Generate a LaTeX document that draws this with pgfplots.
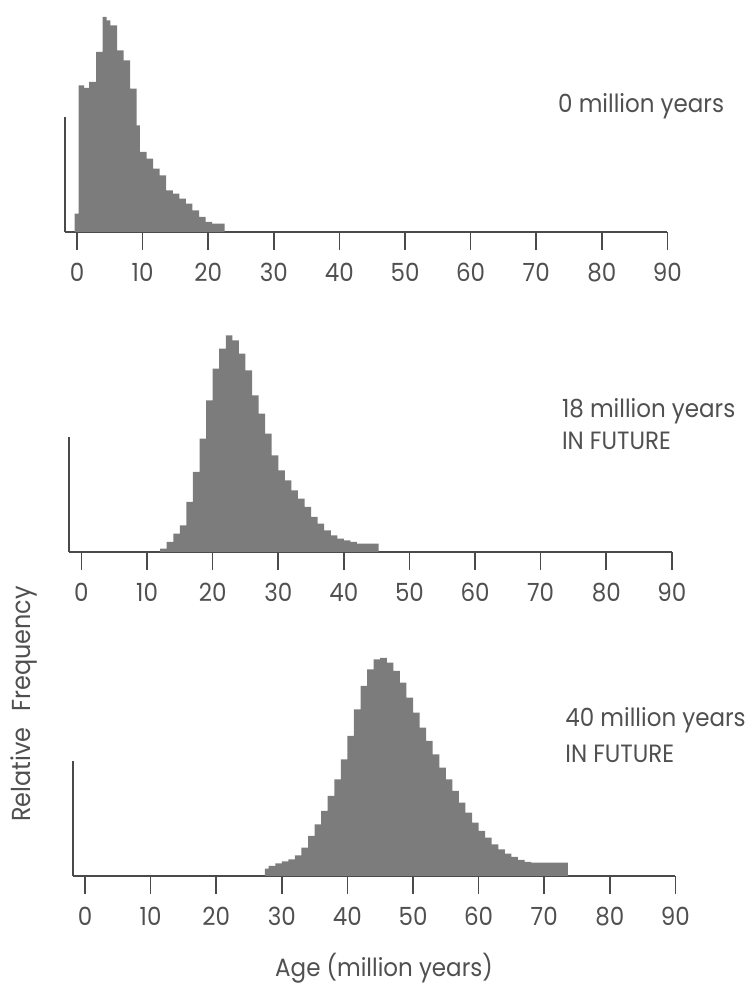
\documentclass[border=0pt]{standalone}
\usepackage{fontspec}
\setmainfont{Poppins}[FakeStretch=0.92]
\usepackage{pgfplots}
\pgfplotsset{compat=1.18}
\definecolor{ink}{HTML}{4A4A4A}
\definecolor{txt}{HTML}{505050}
\definecolor{fillg}{HTML}{7C7C7C}
\newcommand{\lbl}{\fontsize{12.5}{14}\selectfont}
\pgfplotsset{panel/.style={
  scale only axis, x=3.28pt, y=0.16667pt, xmax=90, ymin=0, ymax=345,
  axis x line*=bottom, axis y line*=left, clip=false,
  xtick={0,10,...,90}, ytick=\empty, tick align=outside, major tick length=9pt,
  axis line style={ink, line width=0.8pt},
  every tick/.style={ink, line width=0.8pt},
  xticklabel style={font=\lbl, text=txt, yshift=-3pt},
  /pgf/number format/assume math mode=true,
  anchor=south west,
}}
\begin{document}
\begin{tikzpicture}
\path[use as bounding box] (0,0) rectangle (376pt,500pt);
% panel 1: 0 million years
\begin{axis}[panel, at={(32.5pt,384pt)}, xmin=-1.83]
\addplot[fill=fillg, draw=none, const plot] coordinates {
(-0.35,55) (0.25,440) (1.1,432) (1.85,450) (2.9,540) (3.9,645) (4.5,635)
(5.1,620) (6.1,545) (7.1,515) (8.1,430) (9.1,320) (9.6,240) (10.6,220)
(11.6,190) (12.6,170) (13.6,125) (14.6,115) (15.6,100) (16.6,85) (17.6,65)
(18.6,45) (19.6,30) (20.6,25) (22.5,25)} \closedcycle;
\end{axis}
% panel 2: 18 million years in future
\begin{axis}[panel, at={(34.5pt,224pt)}, xmin=-1.9]
\addplot[fill=fillg, draw=none, const plot] coordinates {
(12,10) (13,30) (14,55) (15,80) (16,150) (17,240) (18,340) (19,455) (20,550)
(21,610) (22,650) (23,635) (24,595) (25,545) (26,470) (27,415) (28,355)
(29,290) (30,245) (31,215) (32,185) (33,160) (34,135) (35,105) (36,85)
(37,65) (38,50) (39,40) (40,35) (41,30) (42,25) (45.3,25)} \closedcycle;
\end{axis}
% panel 3: 40 million years in future
\begin{axis}[panel, at={(36.5pt,62pt)}, xmin=-1.83]
\addplot[fill=fillg, draw=none, const plot] coordinates {
(27.4,22) (28,30) (29,38) (30,44) (31,50) (32,62) (33,85) (34,120) (35,155)
(36,195) (37,240) (38,290) (39,350) (40,420) (41,500) (42,570) (43,620)
(44,650) (45,654) (46,640) (47,615) (48,580) (49,535) (50,490) (51,445)
(52,405) (53,365) (54,325) (55,290) (56,255) (57,220) (58,190) (59,160)
(60,135) (61,115) (62,95) (63,80) (64,67) (65,57) (66,48) (67,42) (68,40)
(73.6,40)} \closedcycle;
\end{axis}
\begin{scope}[every node/.style={text=txt, font=\lbl, inner sep=0pt}]
\node[anchor=base west] at (278.9pt,443.5pt) {0 million years};
\node[anchor=base west] at (280.8pt,291pt) {18 million years};
\node[anchor=base west] at (280.8pt,275pt) {IN FUTURE};
\node[anchor=base west] at (282.5pt,136.5pt) {40 million years};
\node[anchor=base west] at (282.5pt,118.5pt) {IN FUTURE};
\node[anchor=base] at (192pt,11.5pt) {Age (million years)};
\node[anchor=base, rotate=90, font=\fontsize{13}{15}\selectfont] at (15.5pt,148pt) {Relative\hspace{0.6em}Frequency};
\end{scope}
\end{tikzpicture}
\end{document}
